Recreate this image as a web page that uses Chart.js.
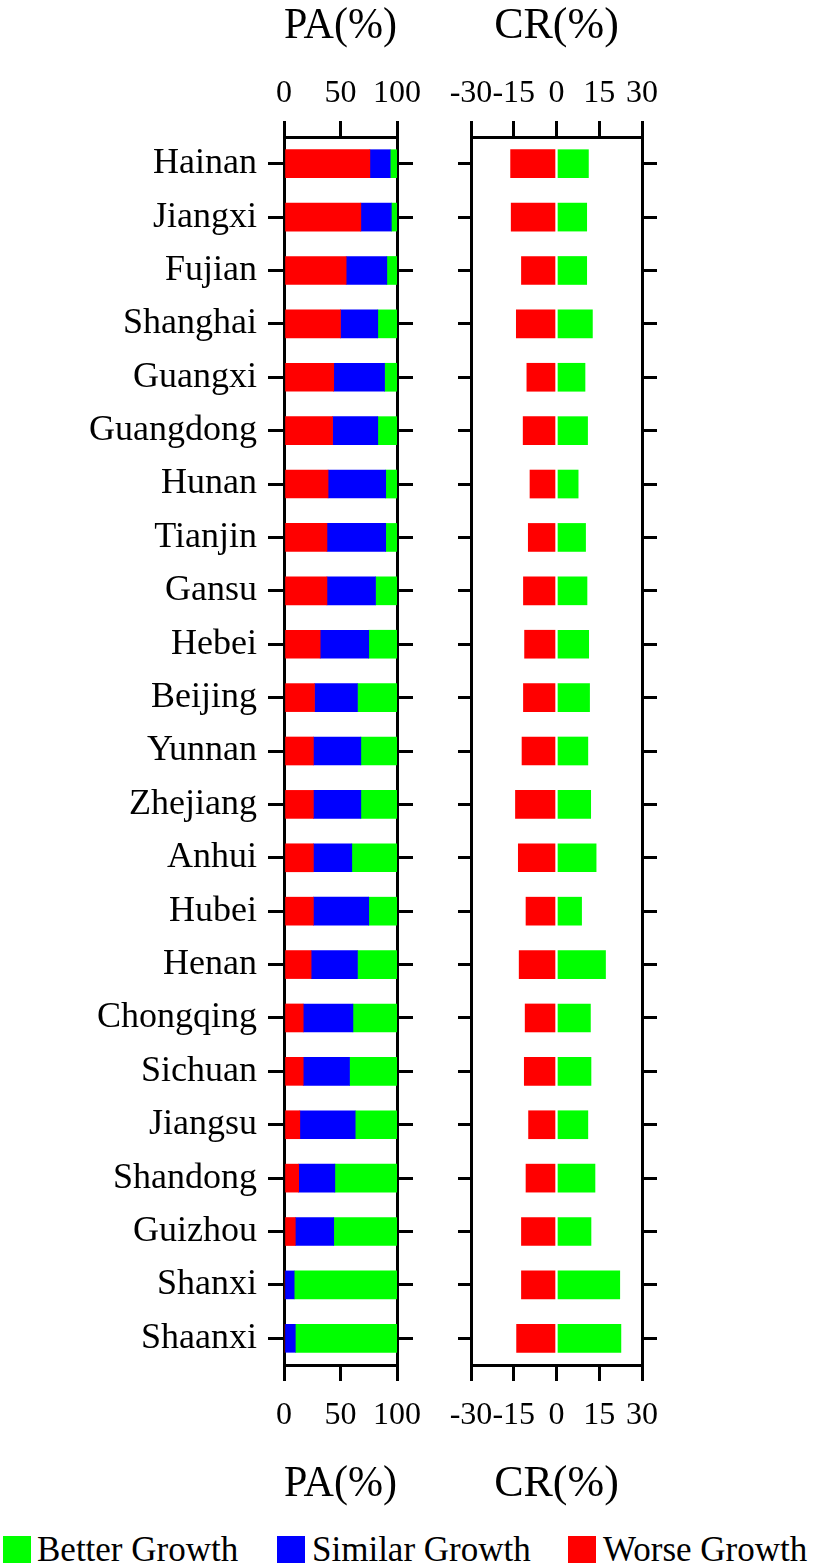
<!DOCTYPE html>
<html>
<head>
<meta charset="utf-8">
<script src="https://cdn.jsdelivr.net/npm/chart.js@4"></script>
<style>
  body { margin: 0; background: #fff; }
  #wrap { position: relative; width: 816px; height: 1567px; background: #fff; }
  canvas { position: absolute; top: 0; }
  .key { position: absolute; top: 1536px; width: 28px; height: 27px; }
  .lbl { position: absolute; top: 1528px; font: 35px "Liberation Serif", serif; line-height: 44px; color: #000; white-space: nowrap; }
</style>
</head>
<body>
<div id="wrap">
  <canvas id="pa" width="470" height="1511" style="left:0px"></canvas>
  <canvas id="cr" width="396" height="1511" style="left:420px"></canvas>
  <div class="key" style="left:3px;background:#00ff00"></div><div class="lbl" style="left:37px">Better Growth</div>
  <div class="key" style="left:277px;background:#0000ff"></div><div class="lbl" style="left:312px">Similar Growth</div>
  <div class="key" style="left:568px;background:#ff0000"></div><div class="lbl" style="left:603px">Worse Growth</div>
</div>
<script>
const provinces = ["Hainan", "Jiangxi", "Fujian", "Shanghai", "Guangxi", "Guangdong", "Hunan", "Tianjin", "Gansu", "Hebei", "Beijing", "Yunnan", "Zhejiang", "Anhui", "Hubei", "Henan", "Chongqing", "Sichuan", "Jiangsu", "Shandong", "Guizhou", "Shanxi", "Shaanxi"];

// PA(%) shares
const paWorse   = [76, 68, 55, 50, 44, 43, 39, 38, 38, 32, 27, 26, 26, 26, 26, 24, 17, 17, 14, 13, 10, 0, 0];
const paSimilar = [18, 27, 36, 33, 45, 40, 51, 52, 43, 43, 38, 42, 42, 34, 49, 41, 44, 41, 49, 32, 34, 9, 10];
const paBetter  = [6, 5, 9, 17, 11, 17, 10, 10, 19, 25, 35, 32, 32, 40, 25, 35, 39, 42, 37, 55, 56, 91, 90];

// CR(%) values, right panel
const crWorse  = [-16.1, -15.9, -12.3, -14.1, -10.4, -11.7, -9.3, -9.9, -11.6, -11.2, -11.6, -12.1, -14.4, -13.4, -10.7, -13.1, -11.0, -11.3, -9.8, -10.7, -12.3, -12.3, -14.0];
const crBetter = [11.2, 10.6, 10.6, 12.6, 10.0, 10.9, 7.6, 10.2, 10.7, 11.3, 11.6, 11.0, 12.0, 13.9, 8.8, 17.2, 11.9, 12.1, 11.0, 13.5, 12.1, 22.2, 22.6];

// min, max, step
const paTicks = [0, 100, 50];
const crTicks = [-30, 30, 15];

Chart.defaults.font.family = "'Liberation Serif', serif";
Chart.defaults.color = "#000";

const RED = "#ff0000", BLUE = "#0000ff", GREEN = "#00ff00";

function grid(len) {
  return { drawOnChartArea: false, tickLength: len, lineWidth: 3, color: "#000", offset: false };
}
const border = { display: true, color: "#000", width: 3 };

function xAxis(pos, range, title, size) {
  return {
    position: pos,
    stacked: true,
    min: range[0],
    max: range[1],
    ticks: { stepSize: range[2], autoSkip: false, maxRotation: 0, minRotation: 0,
             padding: pos === "top" ? 8 : 15, font: { size: 32 } },
    grid: grid(16),
    border: border,
    title: { display: true, text: title, font: { size: 44 }, padding: 0 },
    afterFit: (s) => { s.height = size; }
  };
}

function yAxis(pos, len, width, showLabels) {
  return {
    position: pos,
    stacked: true,
    offset: true,
    labels: provinces,
    ticks: { display: showLabels, autoSkip: false, padding: 11, font: { size: 36 } },
    grid: grid(len),
    border: border,
    afterFit: (s) => { s.width = width; }
  };
}

const common = {
  indexAxis: "y",
  responsive: false,
  animation: false,
  devicePixelRatio: 1,
  layout: { padding: 0 },
  plugins: { legend: { display: false }, tooltip: { enabled: false } }
};

new Chart(document.getElementById("pa"), {
  type: "bar",
  data: {
    labels: provinces,
    datasets: [
      { label: "Worse Growth", data: paWorse, backgroundColor: RED, barThickness: 28, xAxisID: "x", yAxisID: "y" },
      { label: "Similar Growth", data: paSimilar, backgroundColor: BLUE, barThickness: 28, xAxisID: "x", yAxisID: "y" },
      { label: "Better Growth", data: paBetter, backgroundColor: GREEN, barThickness: 28, xAxisID: "x", yAxisID: "y" }
    ]
  },
  options: {
    ...common,
    scales: {
      xTop: xAxis("top", paTicks, "PA(%)", 137),
      x: xAxis("bottom", paTicks, "PA(%)", 146),
      y: yAxis("left", 16, 284, true),
      y2: yAxis("right", 16, 73, false)
    }
  }
});

new Chart(document.getElementById("cr"), {
  type: "bar",
  data: {
    labels: provinces,
    datasets: [
      { label: "Worse Growth", data: crWorse, backgroundColor: RED, barThickness: 28, xAxisID: "x", yAxisID: "y" },
      { label: "Better Growth", data: crBetter, backgroundColor: GREEN, barThickness: 28, xAxisID: "x", yAxisID: "y" }
    ]
  },
  options: {
    ...common,
    scales: {
      xTop: xAxis("top", crTicks, "CR(%)", 137),
      x: xAxis("bottom", crTicks, "CR(%)", 146),
      y: yAxis("left", 13, 51, false),
      y2: yAxis("right", 15, 174, false)
    }
  }
});
</script>
</body>
</html>
